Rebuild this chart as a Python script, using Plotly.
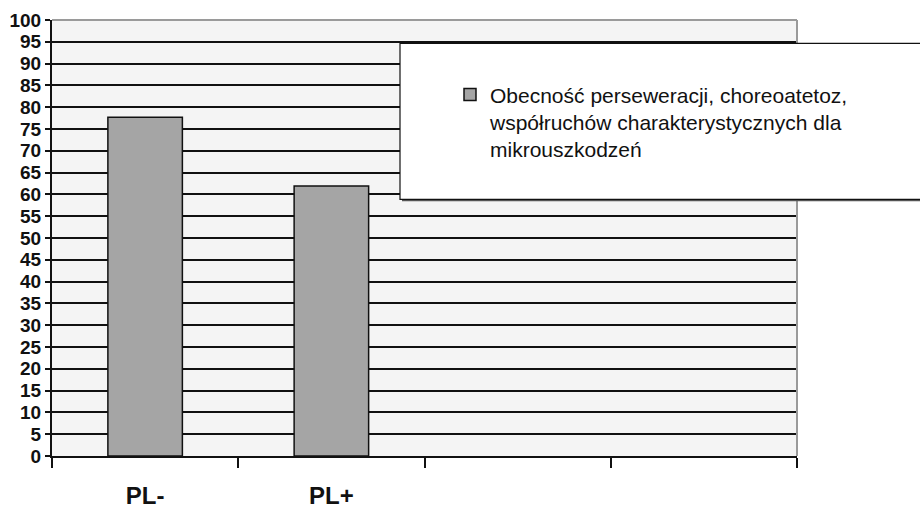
import plotly.graph_objects as go

# Share of cases (%) per group
categories = ["PL-", "PL+"]
values = [77.7, 61.9]
empty_slots = [" ", "  "]  # two unused category positions on the axis
series_name = "Obecność perseweracji, choreoatetoz,<br>współruchów charakterystycznych dla<br>mikrouszkodzeń"

y_ticks = list(range(0, 101, 5))

FONT = "Liberation Sans, Arial, sans-serif"
L, R, T, B = 52, 123, 19.5, 52
W, H = 920, 508
plot_w = W - L - R
plot_h = H - T - B


def px_x(px):
    return (px - L) / plot_w


def px_y(py):
    return (H - B - py) / plot_h


fig = go.Figure()
fig.add_trace(go.Bar(
    x=categories,
    y=values,
    name=series_name,
    marker=dict(color="#a5a5a5", line=dict(color="#111111", width=1.5)),
    showlegend=True,
))

fig.update_layout(
    template="none",
    width=W, height=H,
    margin=dict(l=L, r=R, t=T, b=B, pad=0),
    paper_bgcolor="white",
    plot_bgcolor="#f4f4f4",
    bargap=0.6,
    font=dict(family=FONT, color="black"),
    showlegend=True,
    legend=dict(
        x=px_x(450), y=px_y(74), xanchor="left", yanchor="top",
        font=dict(family=FONT, size=21, color="#111111"),
        bgcolor="rgba(0,0,0,0)", borderwidth=0,
        valign="top",
        itemwidth=30,
    ),
    xaxis=dict(
        type="category",
        categoryorder="array",
        categoryarray=categories + empty_slots,
        range=[-0.5, len(categories) + len(empty_slots) - 0.5],
        automargin=False,
        tickson="boundaries",
        ticks="outside", ticklen=10, tickwidth=2, tickcolor="#111111",
        showline=True, linecolor="#111111", linewidth=2,
        showgrid=False,
        tickfont=dict(family=FONT, size=24, color="#111111", weight="bold"),
        ticklabelstandoff=17,
        fixedrange=True,
    ),
    yaxis=dict(
        range=[0, 100],
        tickvals=y_ticks,
        automargin=False,
        ticks="outside", ticklen=5, tickwidth=2, tickcolor="#111111",
        showline=True, linecolor="#111111", linewidth=2,
        showgrid=True, gridcolor="#111111", gridwidth=1.5,
        zeroline=False,
        tickfont=dict(family=FONT, size=19, color="#111111", weight="bold"),
        fixedrange=True,
    ),
)

# Light frame on the top and right of the plotting area
fig.add_shape(type="line", xref="paper", yref="paper", x0=0, x1=1, y0=1, y1=1,
              line=dict(color="#9a9a9a", width=2), layer="above")
fig.add_shape(type="line", xref="paper", yref="paper", x0=1, x1=1, y0=0, y1=1,
              line=dict(color="#9a9a9a", width=2), layer="above")

# Legend panel with a drop shadow
bx0, bx1, by0, by1 = 400, 940, 43, 199
fig.add_shape(type="rect", xref="paper", yref="paper",
              x0=px_x(bx0 + 2), x1=px_x(bx1 + 2), y0=px_y(by1 + 2), y1=px_y(by0 + 2),
              line=dict(width=0), fillcolor="#555555", layer="above")
fig.add_shape(type="rect", xref="paper", yref="paper",
              x0=px_x(bx0), x1=px_x(bx1), y0=px_y(by1), y1=px_y(by0),
              line=dict(color="#111111", width=1.2), fillcolor="white", layer="above")

fig.write_html("out.html")
